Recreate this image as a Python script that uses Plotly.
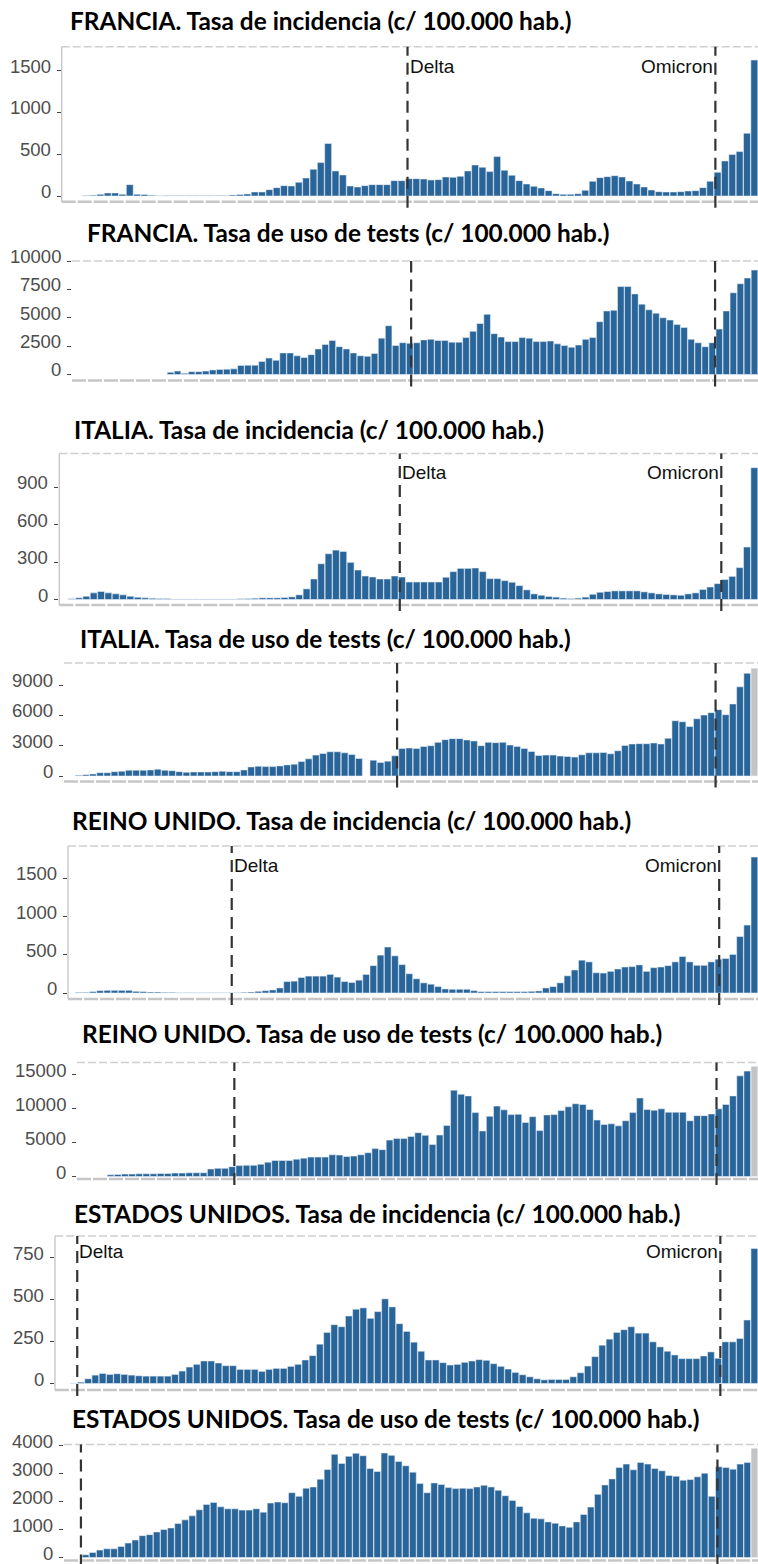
import plotly.graph_objects as go

W, H = 758, 1564
BLUE = "#2a6599"
GRAY_BAR = "#c4c4c4"

# ---------------- data (weekly rates per 100.000 inhabitants) ----------------
fr_inc = [5, 10, 20, 36, 36, 20, 136, 20, 18, 10,
          3, 5, 5, 5, 5, 5, 5, 5, 5, 5,
          12, 18, 25, 48, 48, 76, 100, 124, 120, 164,
          216, 320, 400, 628, 300, 252, 120, 108, 124, 136,
          136, 136, 184, 184,
          208, 208, 204, 192, 196, 228, 224, 236, 300, 372,
          344, 292, 472, 308, 248, 184, 144, 116, 96, 64,
          28, 20, 20, 28, 68, 176, 220, 232, 244, 228,
          180, 144, 108, 72, 52, 48, 48, 52, 60, 64,
          100, 176, 284, 420, 496, 532, 752, 1628]

fr_tests = [200, 300, 100, 250, 250, 300, 400, 450, 470, 500,
            800, 820, 820, 1150, 1450, 1250, 1900, 1900, 1650, 1500,
            1750, 2250, 2650, 3000, 2450, 2250, 1900, 1650, 1600, 1850,
            3200, 4300, 2550, 2800,
            2750, 2800, 3050, 3100, 3000, 3000, 2850, 2850, 3250, 3800,
            4500, 5300, 3600, 3300, 2900, 2900, 3250, 3200, 2900, 2900,
            2950, 2700, 2550, 2400, 2600, 3100, 3250, 4650, 5600, 5650,
            7750, 7750, 7100, 6200, 5700, 5400, 5000, 4800, 4400, 4150,
            3100, 2800, 2450, 2800, 4000, 5600, 7200, 8000, 8500, 9200]

it_inc = [5, 13, 26, 53, 64, 53, 45, 37, 26, 18,
          13, 10, 8, 8, 3, 3, 3, 3, 3, 3,
          3, 3, 3, 5, 8, 10, 13, 13, 13, 16,
          21, 37, 85, 164, 286, 366, 395, 384, 297, 236,
          188, 180, 164, 164, 188, 180,
          140, 140, 140, 140, 140, 178, 223, 249, 249, 252,
          223, 167, 167, 151, 138, 111, 77, 45, 34, 24,
          19, 11, 8, 11, 19, 42, 58, 64, 69, 69,
          69, 69, 61, 53, 45, 40, 37, 34, 45, 53,
          80, 100, 127, 160, 185, 255, 420, 1055]

it_tests = [70, 130, 200, 330, 330, 430, 470, 570, 570, 570,
            600, 670, 570, 530, 430, 370, 400, 400, 400, 430,
            470, 430, 430, 600, 900, 970, 930, 930, 1000, 1100,
            1170, 1430, 1700, 2070, 2230, 2400, 2400, 2300, 2130, 1730,
            None, 1570, 1330, 1470, 2000,
            2730, 2770, 2730, 2930, 3000, 3330, 3600, 3700, 3700, 3570,
            3470, 3000, 3330, 3300, 3330, 3070, 2930, 2730, 2430, 2030,
            2070, 2070, 1970, 1930, 1870, 2100, 2300, 2300, 2330, 2200,
            2500, 3030, 3170, 3200, 3200, 3270, 3170, 3730, 5470, 5370,
            4900, 5670, 6030, 6270, 6570, 6070, 7130, 8830, 10170, 10670]

uk_inc = [9, 9, 18, 31, 35, 35, 35, 35, 22, 18,
          13, 13, 9, 9, 4, 4, 4, 4, 4, 4,
          4, 4,
          4, 9, 13, 22, 31, 40, 66, 150,
          155, 203, 221, 221, 221, 243, 208, 150, 137, 168,
          243, 358, 495, 601, 486, 371, 252, 186, 133, 115,
          84, 53, 49, 49, 49, 31, 18, 18, 18, 18,
          18, 18, 18, 22, 27, 66, 84, 133, 225, 301,
          429, 407, 265, 261, 283, 314, 340, 345, 367, 283,
          331, 340, 358, 407, 477, 407, 362, 362, 407,
          442, 451, 504, 738, 888, 1777]

uk_tests = [250, 300, 350, 350, 400, 400, 400, 450, 450, 500,
            500, 550, 550, 550, 1100, 1200, 1200, 1450,
            1600, 1650, 1650, 1800, 2100, 2350, 2350, 2350, 2550, 2700,
            2850, 2850, 2850, 3200, 3150, 2950, 3000, 3200, 3500, 4100,
            3950, 5350, 5600, 5600, 5900, 6450, 6050, 4700, 6100, 7500,
            12700, 12100, 11850, 9400, 6700, 8850, 10350, 9800, 9100, 9150,
            7950, 8800, 6750, 9050, 9100, 9700, 10250, 10700, 10600, 9850,
            8300, 7650, 7750, 7450, 8200, 9400, 11550, 9850, 9750, 9950,
            9450, 9450, 9450, 8200, 8950, 8950, 9200,
            9950, 10600, 11850, 14800, 15500, 16200]

us_inc = [2, 8, 28, 50, 60, 54, 58, 54, 50, 46,
          44, 44, 44, 44, 54, 74, 98, 114, 134, 134,
          122, 106, 106, 84, 84, 84, 72, 84, 90, 90,
          102, 114, 140, 166, 234, 304, 350, 338, 402, 442,
          450, 388, 428, 504, 456, 356, 310, 246, 192, 140,
          140, 124, 110, 114, 126, 134, 142, 138, 118, 102,
          86, 66, 52, 40, 28, 22, 24, 24, 24, 40,
          64, 104, 160, 228, 264, 304, 320, 338, 300, 300,
          248, 218, 192, 170, 148, 148, 148, 164, 188, 150,
          248, 248, 268, 378, 804]

us_tests = [96, 180, 264, 312, 312, 396, 516, 624, 780, 816,
            912, 996, 1056, 1212, 1344, 1488, 1704, 1896, 1968, 1812,
            1740, 1740, 1692, 1692, 1740, 1620, 1944, 1980, 1956, 2316,
            2184, 2472, 2520, 2796, 3144, 3684, 3360, 3612, 3720, 3636,
            3180, 3072, 3732, 3648, 3432, 3276, 3048, 2640, 2316, 2664,
            2604, 2496, 2460, 2472, 2460, 2520, 2580, 2520, 2400, 2208,
            2040, 1824, 1596, 1404, 1380, 1272, 1224, 1128, 1080, 1272,
            1536, 1800, 2256, 2592, 2808, 3216, 3336, 3132, 3396, 3336,
            3180, 3096, 2928, 2904, 2760, 2784, 2880, 3012, 2184, 3240,
            3216, 3156, 3336, 3396, 3900]

titles = [
    "FRANCIA. Tasa de incidencia (c/ 100.000 hab.)",
    "FRANCIA. Tasa de uso de tests (c/ 100.000 hab.)",
    "ITALIA. Tasa de incidencia (c/ 100.000 hab.)",
    "ITALIA. Tasa de uso de tests (c/ 100.000 hab.)",
    "REINO UNIDO. Tasa de incidencia (c/ 100.000 hab.)",
    "REINO UNIDO. Tasa de uso de tests (c/ 100.000 hab.)",
    "ESTADOS UNIDOS. Tasa de incidencia (c/ 100.000 hab.)",
    "ESTADOS UNIDOS. Tasa de uso de tests (c/ 100.000 hab.)",
]
series = [fr_inc, fr_tests, it_inc, it_tests, uk_inc, uk_tests, us_inc, us_tests]
tick_values = [
    [0, 500, 1000, 1500],
    [0, 2500, 5000, 7500, 10000],
    [0, 300, 600, 900],
    [0, 3000, 6000, 9000],
    [0, 500, 1000, 1500],
    [0, 5000, 10000, 15000],
    [0, 250, 500, 750],
    [0, 1000, 2000, 3000, 4000],
]
partial_last_week = [False, False, False, True, False, True, False, True]
# week index (bar position) where each variant line is drawn
delta_week = [43.8, 34.2, 44.7, 44.3, 21.3, 17.3, 0.5, -0.65]
omicron_week = [85.7, 77.4, 88.5, 88.6, 89.1, 84.7, 89.3, 88.8]
variant_labels = ["Delta", "Omicron"]

# ---------------- panel geometry (pixels) ----------------
geo = [
    dict(tx=68, ty=21, L=61.7, top=46.7, bot=201.7, zero=196.0, k=0.0835, fb=82, boxed=True, lab=20),
    dict(tx=85, ty=232, L=72.0, top=261.0, bot=380.5, zero=374.5, k=0.01135, fb=167, boxed=False, lab=0),
    dict(tx=72, ty=429, L=59.3, top=453.5, bot=605.0, zero=599.5, k=0.125, fb=68, boxed=True, lab=19),
    dict(tx=78, ty=638, L=64.0, top=663.0, bot=781.5, zero=776.0, k=0.0101, fb=75, boxed=False, lab=0),
    dict(tx=70, ty=820, L=68.0, top=846.0, bot=999.0, zero=993.0, k=0.0765, fb=75, boxed=True, lab=19),
    dict(tx=80, ty=1033, L=77.0, top=1062.5, bot=1179.0, zero=1176.5, k=0.0068, fb=107, boxed=False, lab=0),
    dict(tx=72, ty=1213, L=55.0, top=1236.0, bot=1390.0, zero=1383.5, k=0.168, fb=70, boxed=True, lab=15),
    dict(tx=70, ty=1418, L=64.0, top=1444.5, bot=1560.5, zero=1557.5, k=0.028, fb=82, boxed=False, lab=0),
]

fig = go.Figure()
shapes = []
annotations = []
layout = {}
FONT = "Liberation Sans, Arial, sans-serif"

for i, (vals, g) in enumerate(zip(series, geo), start=1):
    sfx = "" if i == 1 else str(i)
    xname, yname = f"x{sfx}", f"y{sfx}"
    n = len(vals)
    S = (W - g["fb"]) / n
    F = g["fb"] + S / 2
    xr = [(g["L"] - F) / S, (W - F) / S]
    yr = [-(g["bot"] - g["zero"]) / g["k"], (g["zero"] - g["top"]) / g["k"]]
    colors = [BLUE] * n
    if partial_last_week[i - 1]:
        colors[-1] = GRAY_BAR
    fig.add_trace(go.Bar(
        x=list(range(n)), y=vals, xaxis=xname, yaxis=yname,
        marker=dict(color=colors, line=dict(color="rgba(235,242,250,0.9)", width=0.6)),
        width=0.94, hoverinfo="skip", showlegend=False,
    ))
    layout[f"xaxis{sfx}"] = dict(
        domain=[g["L"] / W, 1.0], range=xr, anchor=yname,
        showticklabels=False, showgrid=False, zeroline=False, showline=False, ticks="",
        fixedrange=True,
    )
    layout[f"yaxis{sfx}"] = dict(
        domain=[1 - g["bot"] / H, 1 - g["top"] / H], range=yr, anchor=xname,
        tickvals=tick_values[i - 1], ticks="outside", ticklen=4, tickwidth=1,
        tickcolor="#444444", showticklabels=False,
        showgrid=False, zeroline=False, showline=False, fixedrange=True,
    )
    # tick labels (placed slightly above their tick marks, as in the original)
    for v in tick_values[i - 1]:
        annotations.append(dict(text=str(v), xref=f"{xname} domain", yref=yname,
                                x=0, y=v, xanchor="right", yanchor="middle",
                                xshift=-9, yshift=4.5, showarrow=False,
                                font=dict(family=FONT, size=18.5, color="#4d4d4d")))
    xd = f"{xname} domain"
    yd = f"{yname} domain"
    ph = g["bot"] - g["top"]
    # bottom axis
    shapes.append(dict(type="line", xref=xd, yref=yd, x0=0, x1=1, y0=0, y1=0,
                       line=dict(color="#c6c6c6", width=2.5, dash="14px,2px")))
    # top dashed border
    shapes.append(dict(type="line", xref=xd, yref=yd, x0=0, x1=1, y0=1, y1=1,
                       line=dict(color="#cfcfcf", width=1.5, dash="8px,3px")))
    if g["boxed"]:
        shapes.append(dict(type="line", xref=xd, yref=yd, x0=0, x1=0, y0=0, y1=1,
                           line=dict(color="#c4c4c4", width=1.3)))
    # variant lines
    for pos in (delta_week[i - 1], omicron_week[i - 1]):
        shapes.append(dict(type="line", xref=xname, yref=yd, x0=pos, x1=pos,
                           y0=-6 / ph, y1=1,
                           line=dict(color="#333333", width=2.2, dash="12px,7px")))
    if g["boxed"]:
        ylab = 1 - g["lab"] / ph
        annotations.append(dict(text=variant_labels[0], xref=xname, yref=yd,
                                x=delta_week[i - 1], y=ylab, xanchor="left", yanchor="middle",
                                showarrow=False,
                                font=dict(family=FONT, size=19, color="#111111")))
        annotations.append(dict(text=variant_labels[1], xref=xname, yref=yd,
                                x=omicron_week[i - 1], y=ylab, xanchor="right", yanchor="middle",
                                showarrow=False,
                                font=dict(family=FONT, size=19, color="#111111")))
    # panel title
    annotations.append(dict(text=f"<b>{titles[i - 1]}</b>", xref="paper", yref="paper",
                            x=g["tx"] / W, y=1 - g["ty"] / H, xanchor="left", yanchor="middle",
                            showarrow=False,
                            font=dict(family="Lato, sans-serif", size=24.4, color="#000000")))

fig.update_layout(
    width=W, height=H, autosize=False,
    margin=dict(l=0, r=0, t=0, b=0),
    paper_bgcolor="white", plot_bgcolor="white",
    bargap=0.0, shapes=shapes, annotations=annotations,
    **layout,
)

fig.write_html(
    "out.html",
    config={"displayModeBar": False, "staticPlot": True},
    post_script="document.body.style.margin='0';"
                "document.documentElement.style.overflow='hidden';"
                "document.body.style.overflow='hidden';",
)
